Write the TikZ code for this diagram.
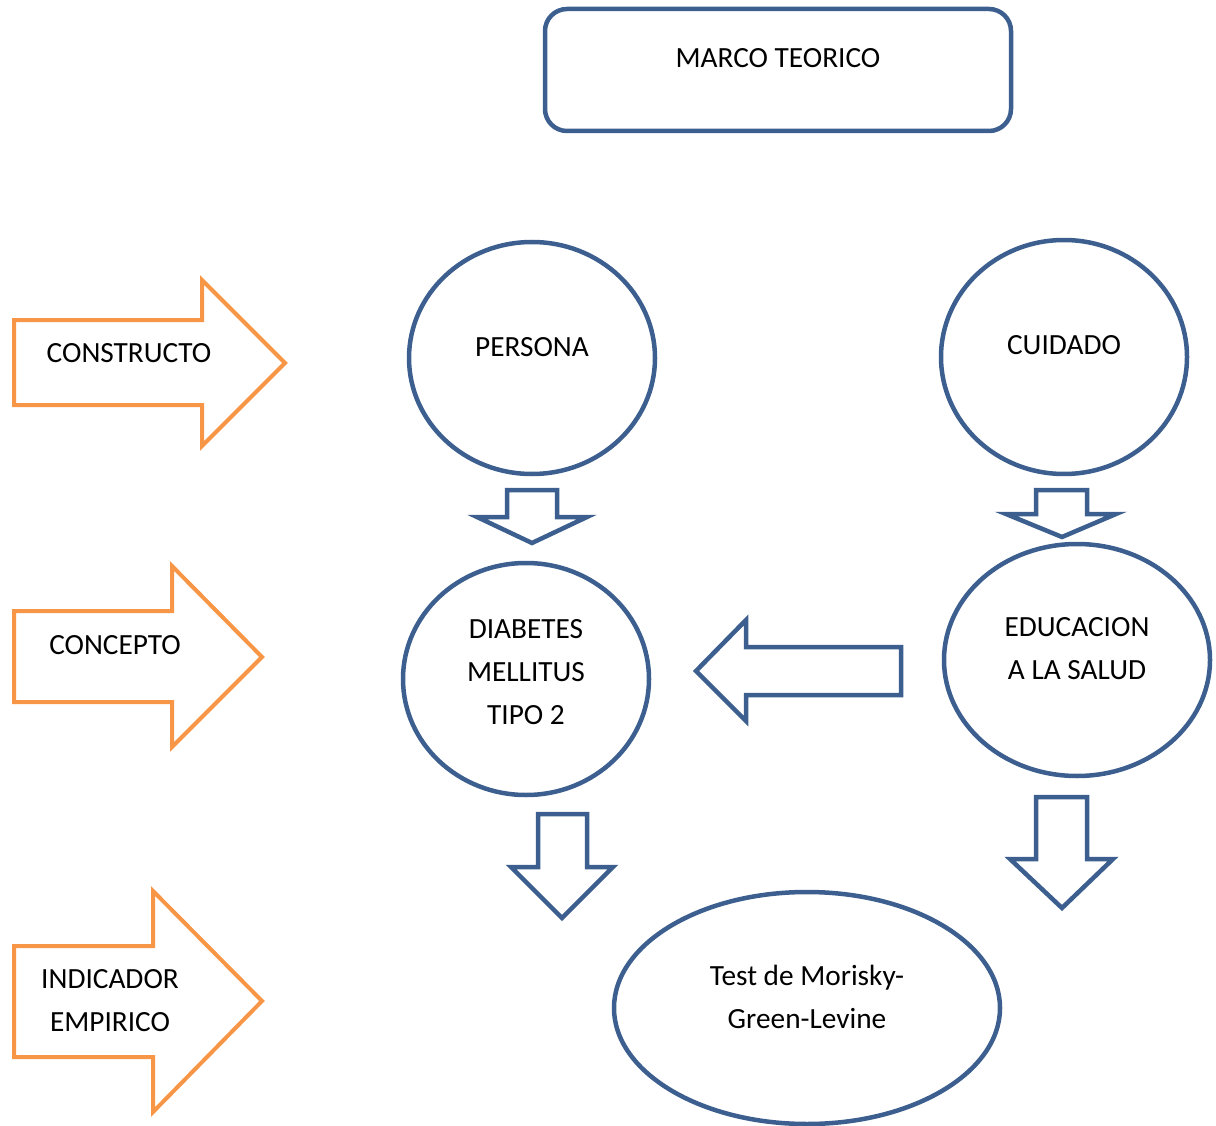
\documentclass[tikz,border=0pt]{standalone}
\usepackage{fontspec}
\setmainfont{Carlito}
\definecolor{marcoblue}{HTML}{3C5F8F}
\definecolor{marcoorange}{HTML}{F79646}
\tikzset{
  blueline/.style={draw=marcoblue,line width=4.5pt,line join=miter},
  orangeline/.style={draw=marcoorange,line width=4pt,line join=miter},
  label/.style={font=\fontsize{29.3}{43}\selectfont,align=center,inner sep=0pt}
}

\begin{document}
\begin{tikzpicture}[x=1pt,y=-1pt]
\useasboundingbox (0,0) rectangle (1216,1126);
% marco teorico
\draw[blueline,rounded corners=22pt] (545,9) rectangle (1011,131);
\node[label] (marco) at (778,58) {MARCO TEORICO};

% orange arrows on the left
\draw[orangeline] (14,320) -- (202,320) -- (202,280) -- (285,363) -- (202,446) -- (202,405) -- (14,405) -- cycle;
\node[label] (constructo) at (129,353) {CONSTRUCTO};
\draw[orangeline] (14,611) -- (172,611) -- (172,566) -- (262,657) -- (172,747) -- (172,702) -- (14,702) -- cycle;
\node[label] (concepto) at (115,645) {CONCEPTO};
\draw[orangeline] (14,946) -- (153,946) -- (153,891) -- (262,1001) -- (153,1112) -- (153,1057) -- (14,1057) -- cycle;
\node[label] (indicador) at (110,1001) {INDICADOR\\EMPIRICO};

% circles
\draw[blueline] (532,358) ellipse (123pt and 116pt);
\node[label] (persona) at (532,347) {PERSONA};
\draw[blueline] (1064,357) ellipse (123pt and 117pt);
\node[label] (cuidado) at (1064,345) {CUIDADO};
\draw[blueline] (526,679) ellipse (123pt and 116pt);
\node[label] (diabetes) at (526,672) {DIABETES\\MELLITUS\\TIPO 2};
\draw[blueline] (1077,660) ellipse (133pt and 116pt);
\node[label] (educacion) at (1077,649) {EDUCACION\\A LA SALUD};
\draw[blueline] (807,1008) ellipse (193pt and 116pt);
\node[label] (test) at (807,997) {Test de Morisky-\\Green-Levine};

% blue block arrows
\draw[blueline] (507,490) -- (557,490) -- (557,517) -- (587,517) -- (532,543) -- (477,517) -- (507,517) -- cycle;
\draw[blueline] (1036,490) -- (1087,490) -- (1087,514) -- (1116,514) -- (1062,537) -- (1006,514) -- (1036,514) -- cycle;
\draw[blueline] (901,647) -- (746,647) -- (746,620) -- (696,671) -- (746,721) -- (746,695) -- (901,695) -- cycle;
\draw[blueline] (538,814) -- (587,814) -- (587,867) -- (613,867) -- (562,918) -- (511,867) -- (538,867) -- cycle;
\draw[blueline] (1036,797) -- (1087,797) -- (1087,859) -- (1113,859) -- (1062,908) -- (1010,859) -- (1036,859) -- cycle;
\end{tikzpicture}
\end{document}
